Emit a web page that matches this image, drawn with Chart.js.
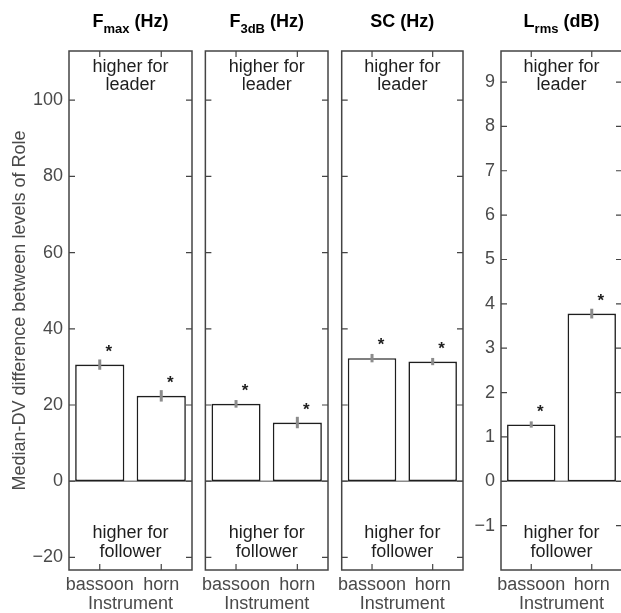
<!DOCTYPE html>
<html>
<head>
<meta charset="utf-8">
<script src="https://cdn.jsdelivr.net/npm/chart.js@4"></script>
<style>
  html, body { margin: 0; padding: 0; background: #fff; overflow: hidden; }
  #figure { position: relative; width: 621px; height: 613px; overflow: hidden; }
  #figure canvas { position: absolute; top: 0; }
</style>
</head>
<body>
<div id="figure">
  <canvas id="fmax" width="200" height="613" style="left:0px"></canvas>
  <canvas id="f3db" width="140" height="613" style="left:196px"></canvas>
  <canvas id="sc" width="140" height="613" style="left:332px"></canvas>
  <canvas id="lrms" width="156" height="613" style="left:466px"></canvas>
</div>
<script>
// --- Data ---
const instruments = ['bassoon', 'horn'];

const fmaxValues = [30.6, 22.4];
const fmaxErrors = [1.35, 1.5];
const f3dbValues = [20.3, 15.4];
const f3dbErrors = [1.0, 1.5];
const scValues = [32.3, 31.4];
const scErrors = [1.1, 0.95];
const lrmsValues = [1.28, 3.78];
const lrmsErrors = [0.07, 0.11];

const hzTicks = [-20, 0, 20, 40, 60, 80, 100];
const dbTicks = [-1, 0, 1, 2, 3, 4, 5, 6, 7, 8, 9];
const hzRange = [-23.3, 112.9];
const dbRange = [-2.0, 9.7];

const yAxisTitle = 'Median-DV difference between levels of Role';
const xAxisTitle = 'Instrument';
const upperNote = ['higher for', 'leader'];
const lowerNote = ['higher for', 'follower'];

// --- Styling ---
const FONT = '"Liberation Sans", Arial, Helvetica, sans-serif';
const FRAME = '#444444';
const TEXT = '#1e1e1e';
const ERR = '#8c8c8c';

Chart.defaults.font.family = FONT;
Chart.defaults.font.size = 18;
Chart.defaults.color = '#4a4a4a';

const minusFmt = v => (v < 0 ? '\u2212' + Math.abs(v) : String(v));

// frame, inward ticks, zero line, error bars, asterisks and notes
const panelDecor = {
    id: 'panelDecor',
    beforeDatasetsDraw(chart) {
        const { ctx, chartArea: a, scales: { y } } = chart;
        const y0 = y.getPixelForValue(0);
        ctx.save();
        ctx.strokeStyle = '#8a8a8a';
        ctx.lineWidth = 1.5;
        ctx.beginPath();
        ctx.moveTo(a.left, y0);
        ctx.lineTo(a.right, y0);
        ctx.stroke();
        ctx.restore();
    },
    afterDatasetsDraw(chart, args, opts) {
        const { ctx, chartArea: a, scales: { x, y } } = chart;
        const meta = chart.getDatasetMeta(0);
        const values = chart.data.datasets[0].data;
        ctx.save();

        // error bars
        ctx.strokeStyle = ERR;
        ctx.lineWidth = 3;
        meta.data.forEach((bar, i) => {
            const v = values[i], e = opts.errors[i];
            ctx.beginPath();
            ctx.moveTo(bar.x, y.getPixelForValue(v - e));
            ctx.lineTo(bar.x, y.getPixelForValue(v + e));
            ctx.stroke();
        });

        // significance markers
        ctx.fillStyle = TEXT;
        ctx.font = 'bold 17px ' + FONT;
        ctx.textAlign = 'center';
        ctx.textBaseline = 'alphabetic';
        meta.data.forEach(bar => {
            ctx.fillText('*', bar.x + 9, bar.y - 8);
        });

        // panel frame
        ctx.strokeStyle = FRAME;
        ctx.lineWidth = 1.5;
        ctx.strokeRect(a.left, a.top, a.right - a.left, a.bottom - a.top);

        // inward tick marks
        ctx.lineWidth = 1.2;
        ctx.beginPath();
        y.ticks.forEach(t => {
            const py = y.getPixelForValue(t.value);
            ctx.moveTo(a.left, py); ctx.lineTo(a.left + 6, py);
            ctx.moveTo(a.right, py); ctx.lineTo(a.right - 6, py);
        });
        x.ticks.forEach((t, i) => {
            const px = x.getPixelForValue(i);
            ctx.moveTo(px, a.top); ctx.lineTo(px, a.top + 6);
            ctx.moveTo(px, a.bottom); ctx.lineTo(px, a.bottom - 6);
        });
        ctx.stroke();

        // direction notes
        const cx = (a.left + a.right) / 2;
        ctx.fillStyle = TEXT;
        ctx.font = '18px ' + FONT;
        ctx.textBaseline = 'middle';
        ctx.fillText(upperNote[0], cx, a.top + 16);
        ctx.fillText(upperNote[1], cx, a.top + 34);
        ctx.fillText(lowerNote[0], cx, a.bottom - 37);
        ctx.fillText(lowerNote[1], cx, a.bottom - 18);

        // panel title with subscript
        const [main, sub, unit] = opts.title;
        const bigFont = 'bold 18px ' + FONT;
        const subFont = 'bold 13px ' + FONT;
        ctx.font = bigFont;
        const wMain = ctx.measureText(main).width;
        const wUnit = ctx.measureText(unit).width;
        ctx.font = subFont;
        const wSub = sub ? ctx.measureText(sub).width : 0;
        let tx = cx - (wMain + wSub + wUnit) / 2;
        const base = 27;
        ctx.fillStyle = '#000';
        ctx.textAlign = 'left';
        ctx.textBaseline = 'alphabetic';
        ctx.font = bigFont;
        ctx.fillText(main, tx, base);
        tx += wMain;
        if (sub) {
            ctx.font = subFont;
            ctx.fillText(sub, tx, base + 6);
            tx += wSub;
        }
        ctx.font = bigFont;
        ctx.fillText(unit, tx, base);
        ctx.restore();
    }
};

const panels = [
    { id: 'fmax', title: ['F', 'max', ' (Hz)'], values: fmaxValues, errors: fmaxErrors,
      ticks: hzTicks, range: hzRange, axisWidth: 69, pad: [0, 8], showY: true, yTitle: true },
    { id: 'f3db', title: ['F', '3dB', ' (Hz)'], values: f3dbValues, errors: f3dbErrors,
      ticks: hzTicks, range: hzRange, axisWidth: 0, pad: [8, 8], showY: false, yTitle: false },
    { id: 'sc', title: ['SC (Hz)', '', ''], values: scValues, errors: scErrors,
      ticks: hzTicks, range: hzRange, axisWidth: 0, pad: [8, 9], showY: false, yTitle: false },
    { id: 'lrms', title: ['L', 'rms', ' (dB)'], values: lrmsValues, errors: lrmsErrors,
      ticks: dbTicks, range: dbRange, axisWidth: 35, pad: [0, 0], showY: true, yTitle: false }
];

panels.forEach(p => {
    const ctx = document.getElementById(p.id).getContext('2d');
    new Chart(ctx, {
        type: 'bar',
        data: {
            labels: instruments,
            datasets: [{
                data: p.values,
                backgroundColor: '#ffffff',
                borderColor: '#1e1e1e',
                borderWidth: 1.6,
                borderSkipped: false,
                barPercentage: 1,
                categoryPercentage: 0.8
            }]
        },
        options: {
            responsive: false,
            animation: false,
            devicePixelRatio: 1,
            events: [],
            layout: { padding: { left: p.pad[0], right: p.pad[1], top: 51, bottom: 0 } },
            plugins: {
                legend: { display: false },
                tooltip: { enabled: false },
                panelDecor: { errors: p.errors, title: p.title }
            },
            scales: {
                x: {
                    type: 'category',
                    offset: true,
                    grid: { display: false, drawTicks: false },
                    border: { display: false },
                    ticks: { padding: 4, maxRotation: 0, autoSkip: false, color: '#4a4a4a' },
                    title: { display: true, text: xAxisTitle, color: '#4a4a4a', padding: { top: 0, bottom: -2 } },
                    afterFit: s => { s.height = 43; }
                },
                y: {
                    min: p.range[0],
                    max: p.range[1],
                    grid: { display: false, drawTicks: false },
                    border: { display: false },
                    afterBuildTicks: s => { s.ticks = p.ticks.map(v => ({ value: v })); },
                    ticks: { display: p.showY, padding: 6, callback: minusFmt, color: '#4a4a4a' },
                    title: { display: p.yTitle, text: yAxisTitle, color: '#4a4a4a', padding: { top: 9, bottom: 0 } },
                    afterFit: s => { s.width = p.axisWidth; }
                }
            }
        },
        plugins: [panelDecor]
    });
});
</script>
</body>
</html>
